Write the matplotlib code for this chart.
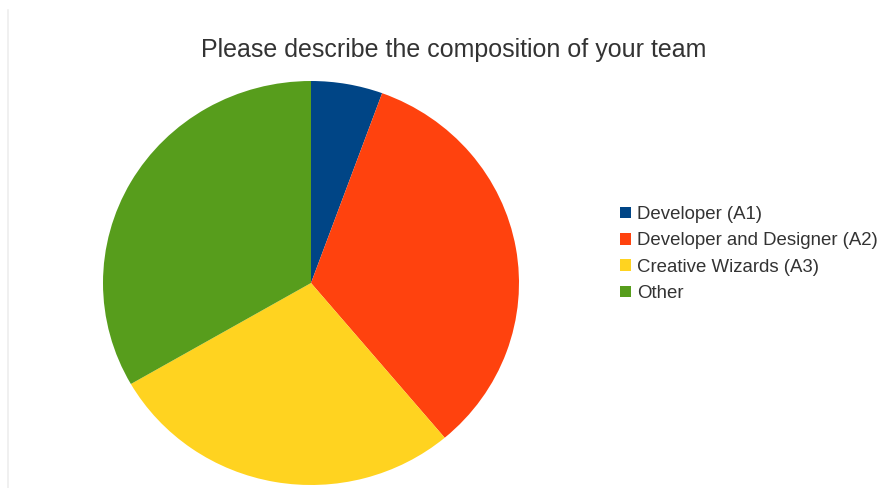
import matplotlib.pyplot as plt
from matplotlib.lines import Line2D

plt.rcParams['font.family'] = ['Liberation Sans', 'DejaVu Sans']

# Survey answers
categories = ['Developer (A1)', 'Developer and Designer (A2)',
              'Creative Wizards (A3)', 'Other']
counts = [1, 6, 5, 6]
colors = ['#004586', '#ff420e', '#ffd320', '#579d1c']

W, H = 888, 488
fig = plt.figure(figsize=(W / 100, H / 100), dpi=100)
fig.patch.set_facecolor('white')

# Pie area in pixels: centre and radii
cx, cy, rx, ry = 311, 283, 208, 202
ax = fig.add_axes([(cx - rx) / W, (H - cy - ry) / H, 2 * rx / W, 2 * ry / H])
wedges, _ = ax.pie(counts, colors=colors, startangle=90, counterclock=False,
                   wedgeprops=dict(linewidth=0))
ax.set_aspect('auto')
ax.set_xlim(-1, 1)
ax.set_ylim(-1, 1)
ax.axis('off')

fig.text(454 / W, 1 - 57 / H, 'Please describe the composition of your team',
         ha='center', va='baseline', fontsize=18, color='#333333')

leg = fig.legend(wedges, categories, loc='upper left',
                 bbox_to_anchor=(620 / W, 1 - 206 / H), frameon=False,
                 borderaxespad=0, borderpad=0,
                 fontsize=13.4, handlelength=0.58, handleheight=0.58,
                 handletextpad=0.33, labelspacing=0.5)
for t in leg.get_texts():
    t.set_color('#333333')

# faint border line on the left
fig.add_artist(Line2D([8 / W, 8 / W], [0, 1 - 10 / H], color='#eeeeee',
                      linewidth=1.2))

fig.savefig('out.png', dpi=100)
